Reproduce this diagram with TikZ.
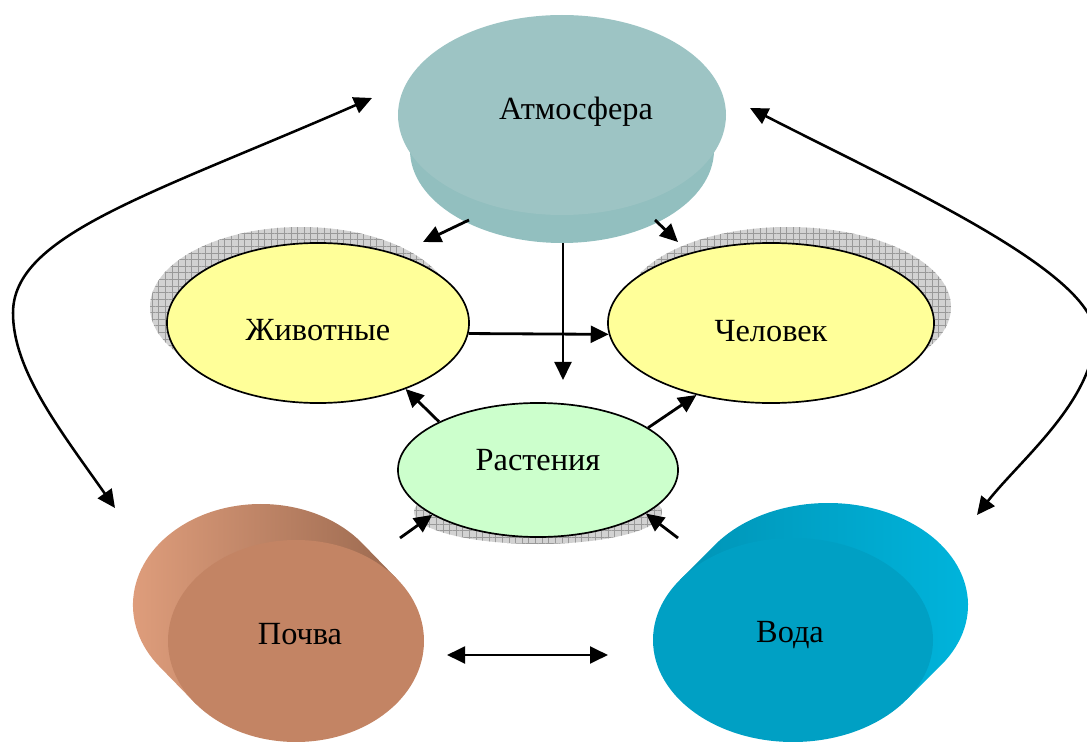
\documentclass[tikz,border=0pt]{standalone}
\usepackage{fontspec}
\setmainfont{Liberation Serif}
\usetikzlibrary{shapes.geometric,arrows.meta,patterns.meta}

\definecolor{animalfill}{HTML}{FFFF99}
\definecolor{plantfill}{HTML}{CCFFCC}
\definecolor{atmtop}{HTML}{9DC4C4}
\definecolor{atmside}{HTML}{6A8E8F}
\definecolor{atmrim}{HTML}{92BFBF}
\definecolor{soiltop}{HTML}{C38464}
\definecolor{soildark}{HTML}{9C6A50}
\definecolor{soillight}{HTML}{E2A07E}
\definecolor{watertop}{HTML}{00A0C4}
\definecolor{watermid}{HTML}{0094B6}
\definecolor{waterdark}{HTML}{007C98}
\definecolor{waterlight}{HTML}{00B6DE}

\begin{document}
\begin{tikzpicture}[x=0.025cm, y=-0.025cm,
    every node/.style={font=\fontsize{23}{27}\selectfont},
    oval/.style={ellipse, draw=black, line width=1.2pt, inner sep=0pt},
    gridshadow/.style={fill=gray!35, postaction={pattern={Hatch[angle=0,distance=4.7pt,line width=0.35pt]}, pattern color=gray!80}},
    arr/.style={line width=2pt, -{Triangle[length=0.45cm,width=0.42cm]}},
    darr/.style={line width=1.8pt, {Triangle[length=0.45cm,width=0.42cm]}-{Triangle[length=0.45cm,width=0.42cm]}}]
  \useasboundingbox (0,0) rectangle (1087,742);

  % atmosphere disc
  \shade[left color=atmrim, middle color=atmside, right color=atmrim]
    (398,115) -- (410,150) arc[start angle=180, end angle=0, x radius=152, y radius=93] -- (726,115) -- cycle;
  \fill[atmtop] (562,115) ellipse [x radius=164, y radius=100];
  \node (atm) at (576,112) {Атмосфера};

  % soil and water blocks
  \shade[left color=soillight, middle color=soildark, right color=soildark]
    (396.4,578.4) -- (361.4,542.4) arc[start angle=-38.3, end angle=-218.3, x radius=128, y radius=101] -- (195.6,703.6) -- cycle;
  \fill[soiltop] (296,641) ellipse [x radius=128, y radius=101];
  \node (pochva) at (300,634) {Почва};

  \shade[left color=watermid, middle color=waterdark, right color=waterlight]
    (679.9,579.9) -- (714.9,544.9) arc[start angle=216.1, end angle=396.1, x radius=140, y radius=102] -- (906.1,700.1) -- cycle;
  \fill[watertop] (793,640) ellipse [x radius=140, y radius=102];
  \node (voda) at (790,635) {Вода};

  % shadows
  \path[gridshadow] (301,307) ellipse [x radius=151, y radius=80];
  \path[gridshadow] (788,307) ellipse [x radius=163, y radius=80];
  \path[gridshadow] (538,512) ellipse [x radius=124, y radius=32];

  \node[oval, fill=animalfill, minimum width=7.55cm, minimum height=4cm,
    label={[yshift=-0.18cm]center:Животные}] (zhiv) at (318,323) {};
  \node[oval, fill=animalfill, minimum width=8.15cm, minimum height=4cm,
    label={[yshift=-0.2cm]center:Человек}] (chel) at (771,323) {};
  \node[oval, fill=plantfill, minimum width=7cm, minimum height=3.35cm,
    label={[yshift=0.25cm]center:Растения}] (rast) at (538,470) {};

  \coordinate (atm-l) at (469,220);
  \coordinate (zhiv-in) at (423,242);
  \coordinate (atm-r) at (655,220);
  \coordinate (chel-in) at (678,242);
  \coordinate (atm-b) at (563,243);
  \coordinate (rast-in) at (563,380);
  \coordinate (pochva-out) at (400,538);
  \coordinate (voda-out) at (678,538);
  \coordinate (pochva-r) at (447,655);
  \coordinate (voda-l) at (608,655);
  \coordinate (atm-wl) at (372,98);
  \coordinate (pochva-t) at (115,508);
  \coordinate (atm-wr) at (750,108);
  \coordinate (voda-t) at (977,515);

  \draw[arr] (atm-l) -- (zhiv-in);
  \draw[arr] (atm-r) -- (chel-in);
  \draw[arr] (atm-b) -- (rast-in);
  \draw[arr] (zhiv.-4) -- (chel.184);
  \draw[arr] (rast.154) -- (zhiv.-37);
  \draw[arr] (rast.21) -- (chel.224);
  \draw[arr] (pochva-out) -- (rast.203);
  \draw[arr] (voda-out) -- (rast.-22);
  \draw[darr] (pochva-r) -- (voda-l);
  \draw[darr] (atm-wl) .. controls (150,195) and (13,235) .. (13,313)
    .. controls (13,370) and (60,430) .. (pochva-t);
  \draw[darr] (atm-wr) .. controls (900,185) and (1090,270) .. (1095,333)
    .. controls (1095,400) and (1020,460) .. (voda-t);
\end{tikzpicture}
\end{document}
